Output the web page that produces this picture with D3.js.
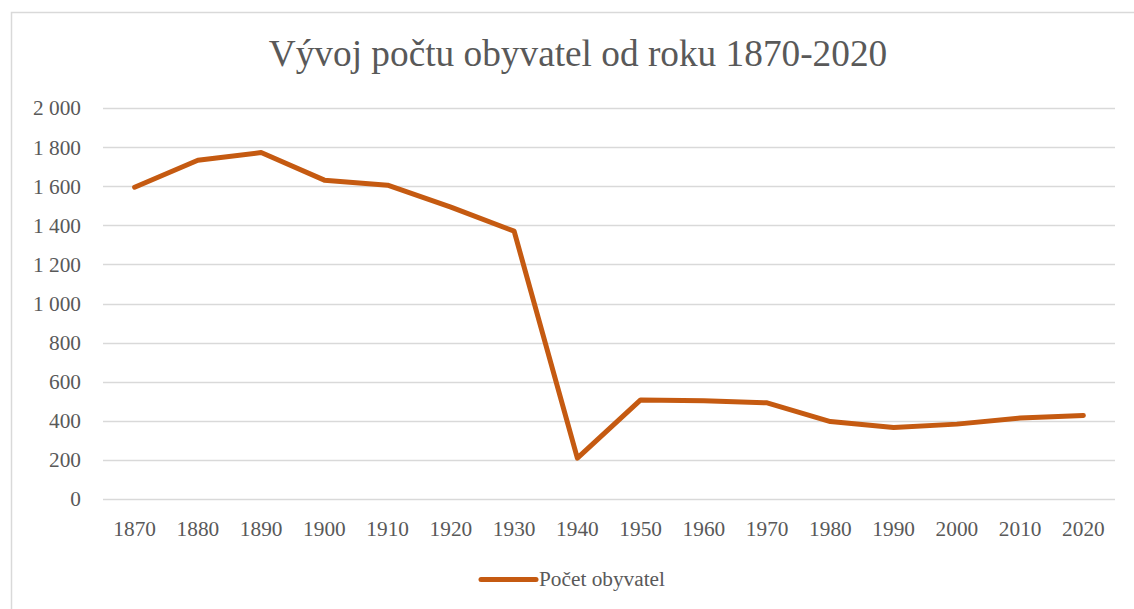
<!DOCTYPE html>
<html>
<head>
<meta charset="utf-8">
<script src="https://cdn.jsdelivr.net/npm/d3@7"></script>
<style>
  body { margin: 0; background: #fff; }
</style>
</head>
<body>
<div id="chart"></div>
<script>
// Data
const years = ["1870", "1880", "1890", "1900", "1910", "1920", "1930", "1940",
               "1950", "1960", "1970", "1980", "1990", "2000", "2010", "2020"];
const population = [1595, 1733, 1772, 1631, 1605, 1493, 1370, 209,
                    507, 502, 492, 396, 366, 383, 414, 427];
const yTicks = [0, 200, 400, 600, 800, 1000, 1200, 1400, 1600, 1800, 2000];
const seriesName = "Počet obyvatel";
const title = "Vývoj počtu obyvatel od roku 1870-2020";

const width = 1134, height = 609;
const margin = { top: 108, right: 19, bottom: 110, left: 103 };
const serif = "'Liberation Serif', 'Times New Roman', 'DejaVu Serif', serif";

const svg = d3.select("#chart")
    .append("svg")
    .attr("width", width)
    .attr("height", height)
    .attr("font-family", serif);

// chart area border
svg.append("rect")
    .attr("x", 11.5).attr("y", 12.5)
    .attr("width", width + 20).attr("height", height + 20)
    .attr("fill", "none")
    .attr("stroke", "#d9d9d9")
    .attr("stroke-width", 1.5);

const x = d3.scaleBand()
    .domain(years)
    .range([margin.left, width - margin.right]);

const y = d3.scaleLinear()
    .domain([0, 2000])
    .range([height - margin.bottom, margin.top]);

// Gridlines
svg.append("g")
    .selectAll("line")
    .data(yTicks)
    .join("line")
    .attr("x1", margin.left)
    .attr("x2", width - margin.right)
    .attr("y1", d => Math.round(y(d)) + 0.5)
    .attr("y2", d => Math.round(y(d)) + 0.5)
    .attr("stroke", "#d9d9d9")
    .attr("stroke-width", 1.5);

// Y labels
const fmt = d => d3.format(",")(d).replace(",", " ");
svg.append("g")
    .selectAll("text")
    .data(yTicks)
    .join("text")
    .attr("x", 81)
    .attr("y", d => y(d))
    .attr("dy", "0.35em")
    .attr("text-anchor", "end")
    .attr("fill", "#595959")
    .style("font-family", serif)
    .style("font-size", "21.3px")
    .text(fmt);

// X labels
svg.append("g")
    .selectAll("text")
    .data(years)
    .join("text")
    .attr("x", d => x(d) + x.bandwidth() / 2)
    .attr("y", 536)
    .attr("text-anchor", "middle")
    .attr("fill", "#595959")
    .style("font-family", serif)
    .style("font-size", "21.3px")
    .text(d => d);

// Line
const line = d3.line()
    .x((d, i) => x(years[i]) + x.bandwidth() / 2)
    .y(d => y(d));

svg.append("path")
    .datum(population)
    .attr("fill", "none")
    .attr("stroke", "#c55a11")
    .attr("stroke-width", 5)
    .attr("stroke-linejoin", "round")
    .attr("stroke-linecap", "round")
    .attr("d", line);

// Title
svg.append("text")
    .attr("x", 578)
    .attr("y", 66)
    .attr("text-anchor", "middle")
    .attr("fill", "#595959")
    .style("font-family", serif)
    .style("font-size", "37.3px")
    .text(title);

// Legend
svg.append("line")
    .attr("x1", 481).attr("x2", 536)
    .attr("y1", 579.5).attr("y2", 579.5)
    .attr("stroke", "#c55a11")
    .attr("stroke-width", 5)
    .attr("stroke-linecap", "round");

svg.append("text")
    .attr("x", 539)
    .attr("y", 579)
    .attr("dy", "0.35em")
    .attr("fill", "#595959")
    .style("font-family", serif)
    .style("font-size", "21.3px")
    .text(seriesName);
</script>
</body>
</html>
